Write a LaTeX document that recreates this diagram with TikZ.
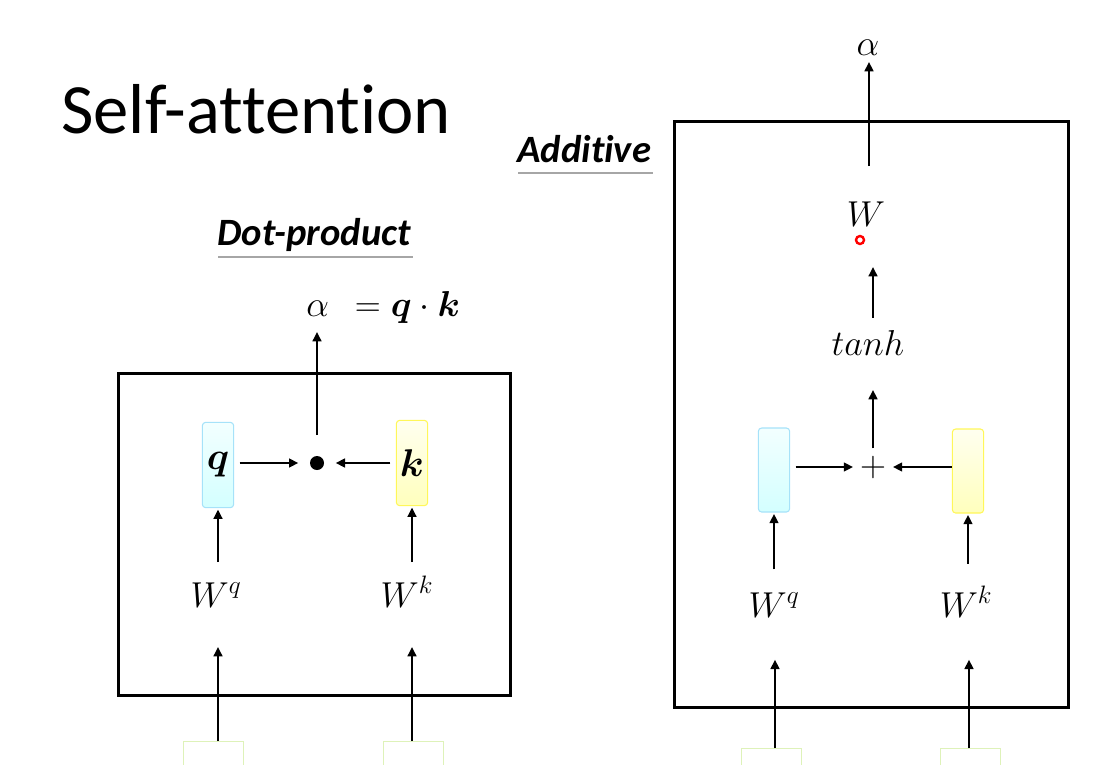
\RequirePackage{fix-cm}
\documentclass[tikz,border=0pt]{standalone}
\usepackage{amsmath}
\usepackage{fontspec}
\newfontfamily\calib[Ligatures=NoCommon]{Carlito}
\usetikzlibrary{arrows.meta}
\definecolor{ingreen}{RGB}{222,242,185}
\begin{document}
\begin{tikzpicture}[x=0.75pt,y=-0.75pt,
  arr/.style={line width=1.9pt,-{Triangle[length=7pt,width=6.5pt]}},
  frame/.style={draw,line width=2.4pt},
  mlbl/.style={inner sep=0pt,font=\fontsize{27}{32}\selectfont},
  vecbox/.style={rounded corners=2.5pt,line width=0.8pt,minimum width=23.5pt,minimum height=64pt,inner sep=0pt,font=\fontsize{29}{32}\selectfont},
  qbox/.style={vecbox,draw=cyan!35,top color=cyan!5,bottom color=cyan!17},
  kbox/.style={vecbox,draw=yellow!65,top color=yellow!6,bottom color=yellow!26},
  inbox/.style={draw=ingreen,line width=0.7pt,fill=white,minimum width=45pt,minimum height=30pt,inner sep=0pt,anchor=north},
  heading/.style={font=\calib\bfseries\itshape\fontsize{29}{32}\selectfont,inner sep=0pt,anchor=base west},
  uline/.style={draw=gray!70,line width=0.8pt}
]
\path[use as bounding box] (0,0) rectangle (1096,764);
\clip (0,0) rectangle (1096,764);

% title
\node[anchor=base west,inner sep=0pt,font=\calib\fontsize{53}{60}\selectfont] (title) at (61,133) {Self-attention};

% ---------------- Dot-product ----------------
\node[heading] (dp) at (217,245) {Dot-product};
\coordinate (dpu1) at (218,257);
\coordinate (dpu2) at (413,257);
\draw[uline] (dpu1) -- (dpu2);

\node[mlbl,anchor=base west] (eq) at (306,316) {$\alpha\;\,=\boldsymbol{q}\cdot\boldsymbol{k}$};

\node[frame,minimum width=294pt,minimum height=241.5pt,anchor=north west] (lframe) at (117,372) {};

\node[qbox] (q) at (218,465) {$\boldsymbol{q}$};
\node[kbox] (k) at (412,463) {$\boldsymbol{k}$};
\node[circle,fill=black,inner sep=0pt,minimum size=10.5pt] (dot) at (317,463) {};

\draw[arr,shorten <=4pt,shorten >=14pt] (q.east |- dot) -- (dot.center);
\draw[arr,shorten <=4pt,shorten >=14pt] (k.west |- dot) -- (dot.center);
\coordinate (aL) at (317,332);
\draw[arr,shorten <=21pt] (dot.center) -- (aL);

\node[mlbl,anchor=base] (Wq) at (216,607) {$W^q$};
\node[mlbl,anchor=base] (Wk) at (407,607) {$W^k$};

\draw[arr,shorten <=15pt,shorten >=1pt] (Wq.north -| q) -- (q.south);
\draw[arr,shorten <=15pt,shorten >=1pt] (Wq.north -| k) -- (k.south);

\node[inbox] (x1) at (213,741) {};
\node[inbox] (x2) at (413,741) {};
\draw[arr,shorten >=30pt] (x1.north -| q) -- (q |- Wq.base);
\draw[arr,shorten >=30pt] (x2.north -| k) -- (k |- Wk.base);

% ---------------- Additive ----------------
\node[heading] (ad) at (517,162) {Additive};
\coordinate (adu1) at (518,173);
\coordinate (adu2) at (653,173);
\draw[uline] (adu1) -- (adu2);

\node[frame,minimum width=295.5pt,minimum height=439.5pt,anchor=north west] (rframe) at (673,120) {};

\node[mlbl,anchor=base] (aR) at (868,55) {$\alpha$};
\coordinate (wtop) at (869,166);
\draw[arr,shorten >=5pt] (wtop) -- (aR.south -| wtop);

\node[mlbl,anchor=base] (W) at (866,226) {$W$};
\node[circle,draw=red,line width=1.8pt,fill=white,inner sep=0pt,minimum size=6pt] (circ) at (860,240) {};

\node[mlbl,anchor=base] (tanh) at (868,355) {$tanh$};
\coordinate (tt) at (873,267);
\draw[arr,shorten <=9pt] (tanh.north -| tt) -- (tt);

\node[mlbl] (plus) at (873,467) {$+$};
\node[qbox,minimum height=63pt] (q2) at (774,470) {};
\node[kbox,minimum height=63pt] (k2) at (968,471) {};

\draw[arr,shorten <=4pt,shorten >=5pt] (q2.east |- plus) -- (plus.west);
\draw[arr,shorten >=5pt] (k2.west |- plus) -- (plus.east);
\draw[arr,shorten <=14pt,shorten >=26pt] (plus.center) -- (tanh.south -| plus);

\node[mlbl,anchor=base] (Wq2) at (774,617) {$W^q$};
\node[mlbl,anchor=base] (Wk2) at (966,617) {$W^k$};
\draw[arr,shorten <=17pt,shorten >=1pt] (Wq2.north -| q2) -- (q2.south);
\draw[arr,shorten <=17pt,shorten >=1pt] (Wk2.north -| k2) -- (k2.south);

\node[inbox] (x3) at (771,748) {};
\node[inbox] (x4) at (970,748) {};
\coordinate (b3) at (775,748);
\coordinate (b4) at (969,748);
\draw[arr,shorten >=32pt] (b3) -- (b3 |- Wq2.base);
\draw[arr,shorten >=32pt] (b4) -- (b4 |- Wk2.base);
\end{tikzpicture}
\end{document}
